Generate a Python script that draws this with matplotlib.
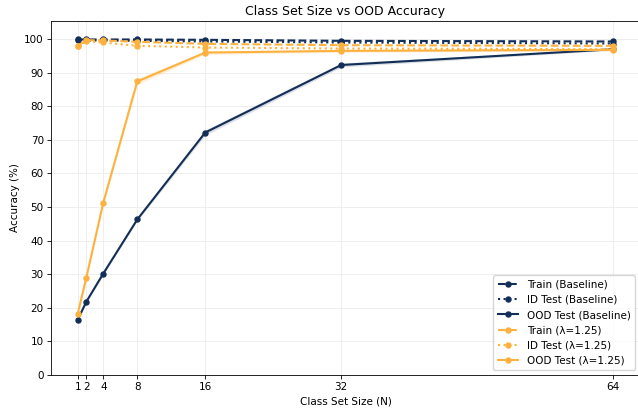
import matplotlib
matplotlib.use("Agg")
import matplotlib.pyplot as plt
import numpy as np

sizes = [1, 2, 4, 8, 16, 32, 64]
base_train = [99.9, 99.9, 99.9, 99.9, 99.8, 99.5, 99.3]
base_id = [99.7, 99.6, 99.6, 99.5, 99.3, 99.0, 98.7]
base_ood = [16.5, 21.8, 30.2, 46.3, 72.2, 92.3, 97.0]
lam_train = [98.0, 99.7, 99.6, 99.2, 98.6, 98.2, 98.0]
lam_id = [98.0, 99.4, 99.0, 98.0, 97.5, 97.2, 97.0]
lam_ood = [18.3, 28.9, 51.3, 87.4, 96.0, 96.5, 96.8]
lam_ood_sd = [0.6, 0.6, 0.6, 0.9, 0.5, 0.4, 0.3]
base_ood_sd = [0.4, 0.4, 0.4, 0.4, 0.8, 0.6, 0.3]

navy = "#132e57"
orange = "#fdb23f"

fig = plt.figure(figsize=(6.38, 4.11), dpi=100)
ax = fig.add_axes([51 / 638, 36 / 411, 589 / 638, 354 / 411])
kw = dict(marker='o', ms=3.6, lw=1.5)
ax.plot(sizes, base_train, '--', color=navy, label='Train (Baseline)', **kw)
ax.plot(sizes, base_id, ':', color=navy, label='ID Test (Baseline)', **kw)
ax.plot(sizes, base_ood, '-', color=navy, label='OOD Test (Baseline)', **kw)
ax.fill_between(sizes, np.array(base_ood) - base_ood_sd, np.array(base_ood) + base_ood_sd, color=navy, alpha=0.15, lw=0)
ax.plot(sizes, lam_train, '--', color=orange, label='Train (λ=1.25)', **kw)
ax.plot(sizes, lam_id, ':', color=orange, label='ID Test (λ=1.25)', **kw)
ax.plot(sizes, lam_ood, '-', color=orange, label='OOD Test (λ=1.25)', **kw)
ax.fill_between(sizes, np.array(lam_ood) - lam_ood_sd, np.array(lam_ood) + lam_ood_sd, color=orange, alpha=0.2, lw=0)

ax.set_xticks(sizes)
ax.set_xticklabels([str(s) for s in sizes])
ax.set_yticks(range(0, 101, 10))
ax.tick_params(labelsize=7.5, length=2.6, width=0.6, pad=2.6)
ax.set_ylim(0, 105.4)
ax.set_xlim(-2.15, 67.15)
ax.grid(True, color='#eeeeee', lw=0.7)
ax.set_axisbelow(True)
for s in ax.spines.values():
    s.set_linewidth(0.6)
ax.set_xlabel('Class Set Size (N)', fontsize=7.5, labelpad=3)
ax.set_ylabel('Accuracy (%)', fontsize=7.5, labelpad=3)
ax.set_title('Class Set Size vs OOD Accuracy', fontsize=9, pad=4.5)
ax.legend(loc='lower right', fontsize=7.5, borderaxespad=0.5)
fig.savefig('out.png', dpi=100)
